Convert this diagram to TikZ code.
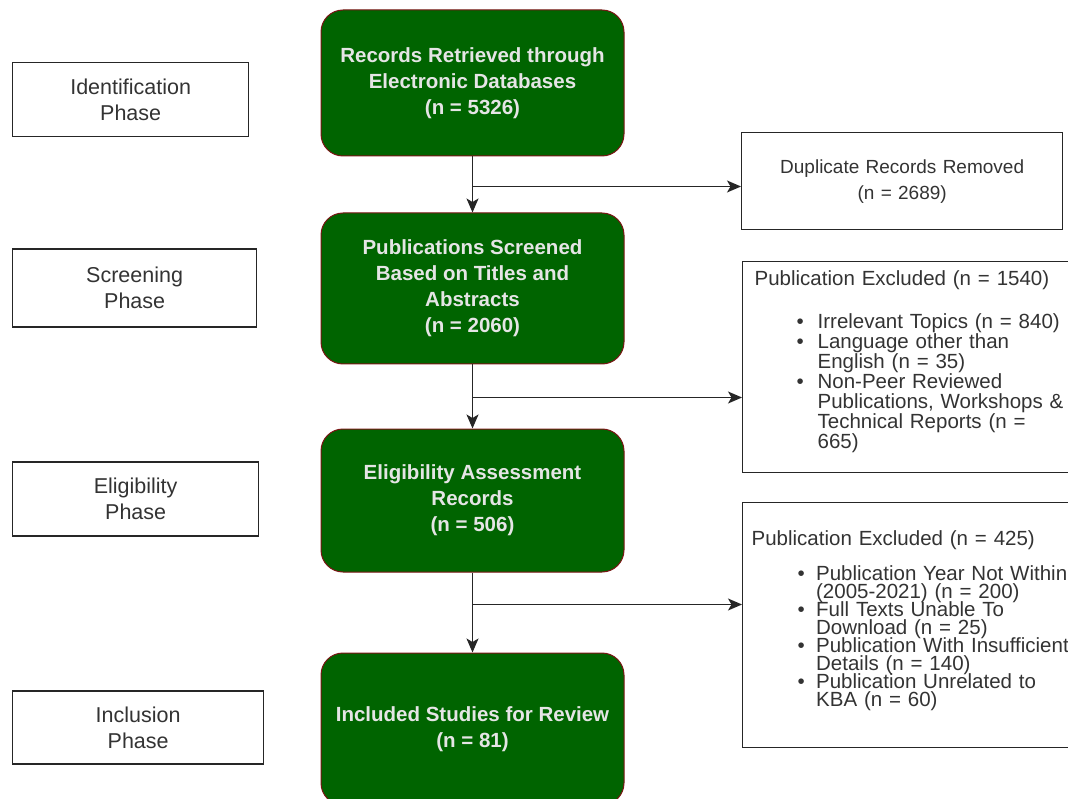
\documentclass[tikz,border=0pt]{standalone}
\usepackage{fontspec}
\setmainfont{Liberation Sans}
\usetikzlibrary{positioning,arrows.meta}
\definecolor{stagegreen}{HTML}{006400}
\definecolor{stageedge}{HTML}{7A1414}
\definecolor{labelgray}{HTML}{333333}
\newlength\exindent
\newlength\exmark
\newcommand{\exitem}{\hspace*{\exindent}\makebox[\exmark][l]{\textbullet}}
\newcommand{\exmore}{\hspace*{\exindent}\hspace*{\exmark}}
\newcommand{\exsetup}[2]{\lineskiplimit=-50pt\relax\exindent=#1\relax\exmark=#2\relax}

\begin{document}
\begin{tikzpicture}[
  x=1pt, y=1pt,
  stage/.style={draw=stageedge, fill=stagegreen, rounded corners=22pt, line width=1pt,
                align=center, minimum width=303pt, text=white!90!black,
                font=\fontsize{20.5}{26}\selectfont\bfseries},
  phase/.style={draw=black!85, line width=1.3pt, align=center, anchor=west,
                minimum height=74pt, text=labelgray, font=\fontsize{21.5}{26}\selectfont},
  removed/.style={draw=black!85, line width=1.3pt, align=center, anchor=north west,
                  text=labelgray, font=\fontsize{19}{26}\selectfont},
  excl/.style={draw=black!85, line width=1.3pt, align=left, anchor=north west,
               text=labelgray, inner xsep=12pt, text width=314pt},
  flow/.style={-{Stealth[length=14pt,width=12pt,inset=3.5pt]}, line width=1.3pt, black!85},
]
  \useasboundingbox (0,0) rectangle (1068,-799);
  \clip (0,0) rectangle (1068,-799);

  % phases on the left
  \node[phase, minimum width=236pt] (pid)  at (12,-99.5) {Identification\\Phase};
  \node[phase, minimum width=244pt, minimum height=78pt] (pscr) at (12,-288) {Screening\\Phase};
  \node[phase, minimum width=246pt] (pelg) at (12,-499) {Eligibility\\Phase};
  \node[phase, minimum width=251pt, minimum height=73pt] (pinc) at (12,-727.5) {Inclusion\\Phase};

  % main flow
  \node[stage, minimum height=146pt] (rec) at (472.5,-83)
    {Records Retrieved through\\Electronic Databases\\(n = 5326)};
  \node[stage, minimum height=151pt, below=56pt of rec] (scr)
    {Publications Screened\\Based on Titles and\\Abstracts\\(n = 2060)};
  \node[stage, minimum height=143pt, below=64pt of scr] (elg)
    {Eligibility Assessment\\Records\\(n = 506)};
  \node[stage, minimum height=152pt, below=80pt of elg] (inc)
    {Included Studies for Review\\(n = 81)};

  % exclusions on the right
  \node[removed, minimum width=321pt, minimum height=97pt, text width=297pt] (dup) at (741,-132)
    {Duplicate Records Removed\\(n = 2689)};
  \node[excl, minimum height=211pt, font=\fontsize{20.5}{20}\selectfont] (exscr) at (742,-261)
    {\exsetup{42pt}{21pt}Publication Excluded (n = 1540)\\[23pt]
     \exitem Irrelevant Topics (n = 840)\\
     \exitem Language other than\\
     \exmore English (n = 35)\\
     \exitem Non-Peer Reviewed\\
     \exmore Publications, Workshops \&\\
     \exmore Technical Reports (n =\\
     \exmore 665)\par\vspace*{10pt}};
  \node[excl, minimum height=245pt, inner xsep=9pt, text width=320pt,
        font=\fontsize{20.5}{18}\selectfont] (exelg) at (742,-502)
    {\exsetup{46pt}{18.5pt}Publication Excluded (n = 425)\\[17pt]
     \exitem Publication Year Not Within\\
     \exmore (2005-2021) (n = 200)\\
     \exitem Full Texts Unable To\\
     \exmore Download (n = 25)\\
     \exitem Publication With Insufficient\\
     \exmore Details (n = 140)\\
     \exitem Publication Unrelated to\\
     \exmore KBA (n = 60)\par\vspace*{8pt}};

  % connectors
  \coordinate[below=30pt of rec.south] (fork1);
  \coordinate[below=33pt of scr.south] (fork2);
  \coordinate[below=32pt of elg.south] (fork3);
  \draw[flow] (rec) -- (scr);
  \draw[flow] (scr) -- (elg);
  \draw[flow] (elg) -- (inc);
  \draw[flow] (fork1) -- (fork1 -| dup.west);
  \draw[flow] (fork2) -- (fork2 -| exscr.west);
  \draw[flow] (fork3) -- (fork3 -| exelg.west);
\end{tikzpicture}
\end{document}
